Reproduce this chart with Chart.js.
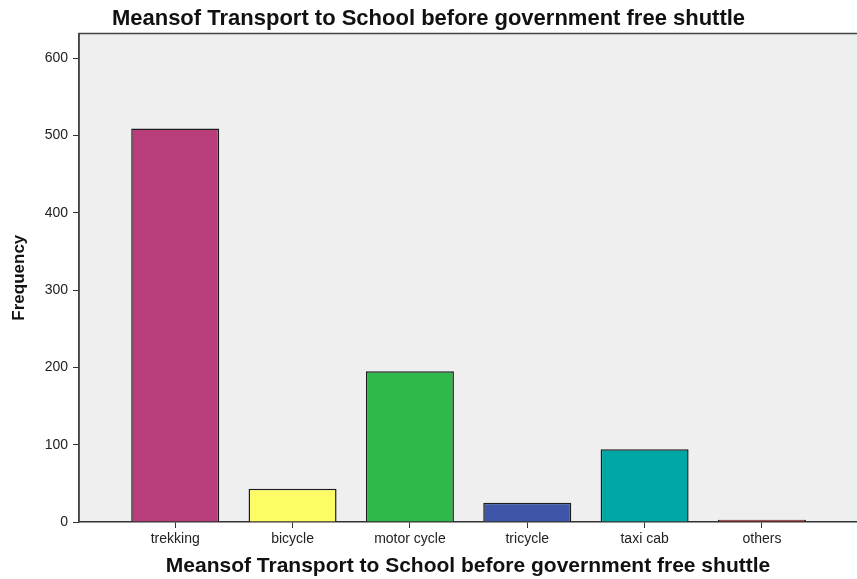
<!DOCTYPE html>
<html>
<head>
<meta charset="utf-8">
<script src="https://cdn.jsdelivr.net/npm/chart.js@4/dist/chart.umd.min.js"></script>
<style>
  html, body { margin: 0; padding: 0; background: #ffffff; }
  #wrap { width: 857px; height: 579px; position: relative; }
</style>
</head>
<body>
<div id="wrap"><canvas id="c" width="857" height="579"></canvas></div>
<script>
const categories = ["trekking", "bicycle", "motor cycle", "tricycle", "taxi cab", "others"];
const frequencies = [509, 43, 195, 25, 94, 3];
const barColors = ["#b93d7b", "#fdfc66", "#2fb94a", "#3e55a9", "#00a8a5", "#b22a2a"];
const yTicks = [0, 100, 200, 300, 400, 500, 600];
const chartTitle = "Meansof Transport to School before government free shuttle";
const yTitle = "Frequency";

const points = categories.map((c, i) => ({ x: i, y: frequencies[i] }));

const plotBg = {
  id: 'plotBg',
  beforeDraw(chart) {
    const { ctx, chartArea: a } = chart;
    ctx.save();
    ctx.fillStyle = '#efefef';
    ctx.fillRect(a.left, a.top, a.right - a.left, a.bottom - a.top);
    ctx.strokeStyle = '#444444';
    ctx.lineWidth = 1.5;
    ctx.beginPath();
    ctx.moveTo(a.left, a.bottom);
    ctx.lineTo(a.left, a.top);
    ctx.lineTo(a.right, a.top);
    ctx.stroke();
    ctx.restore();
  }
};

const FONT = 'Liberation Sans, Arial, sans-serif';

new Chart(document.getElementById('c'), {
  type: 'bar',
  data: {
    datasets: [{
      data: points,
      backgroundColor: barColors,
      borderColor: '#1c1c1c',
      borderWidth: 1.5,
      barPercentage: 0.75,
      categoryPercentage: 1.0
    }]
  },
  plugins: [plotBg],
  options: {
    responsive: false,
    animation: false,
    devicePixelRatio: 1,
    layout: { padding: { left: 0, right: 0, top: 0, bottom: 0 } },
    plugins: {
      legend: { display: false },
      tooltip: { enabled: false },
      title: {
        display: true,
        text: chartTitle,
        color: '#111111',
        font: { family: FONT, size: 22, weight: 'bold' },
        padding: { top: 6, bottom: 1 }
      }
    },
    scales: {
      x: {
        type: 'linear',
        offset: false,
        min: -0.82,
        max: 5.81,
        afterFit(scale) { scale.height = 57; },
        grid: { offset: false, drawOnChartArea: false, drawTicks: true, tickLength: 6, color: '#333333', lineWidth: 1 },
        border: { display: true, color: '#333333', width: 1.5 },
        ticks: {
          stepSize: 1,
          includeBounds: false,
          autoSkip: false,
          maxRotation: 0,
          padding: 3,
          color: '#222222',
          font: { family: FONT, size: 14 },
          callback: (v) => (Number.isInteger(v) && categories[v] !== undefined) ? categories[v] : ''
        },
        title: {
          display: true,
          text: chartTitle,
          color: '#111111',
          font: { family: FONT, size: 21, weight: 'bold' },
          padding: { top: 4, bottom: 0 }
        }
      },
      y: {
        min: 0,
        max: 632,
        afterFit(scale) { scale.width = 79; },
        afterBuildTicks(scale) { scale.ticks = yTicks.map(v => ({ value: v })); },
        grid: { drawOnChartArea: false, drawTicks: true, tickLength: 6, color: '#333333', lineWidth: 1 },
        border: { display: true, color: '#444444', width: 1.5 },
        ticks: {
          padding: 5,
          color: '#222222',
          font: { family: FONT, size: 14 }
        },
        title: {
          display: true,
          text: yTitle,
          color: '#111111',
          font: { family: FONT, size: 17, weight: 'bold' },
          padding: { top: 9, bottom: 4 }
        }
      }
    }
  }
});
</script>
</body>
</html>
